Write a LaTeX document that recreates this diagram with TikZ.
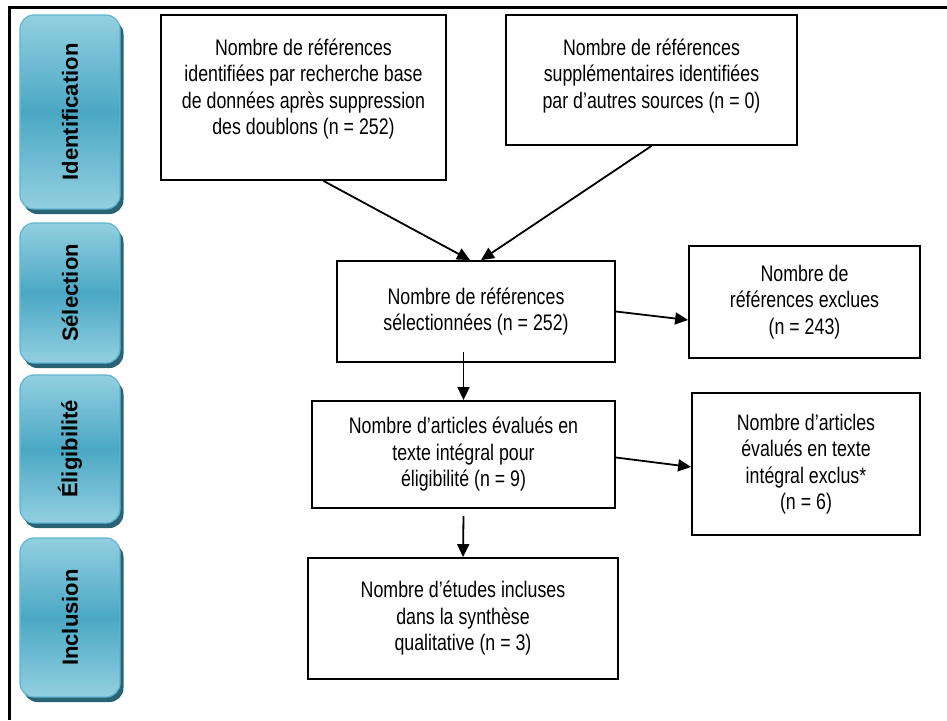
\documentclass[tikz,border=0pt]{standalone}
\usepackage{graphicx}
\usepackage{fontspec}
\setmainfont{Liberation Sans}[FakeStretch=0.79]
\newfontfamily\phasefont{Liberation Sans}
\usetikzlibrary{arrows.meta,shadows,calc}

\definecolor{phaselight}{HTML}{93CFE0}
\definecolor{phasemid}{HTML}{4AA8C4}
\definecolor{phaseedge}{HTML}{5DB6CE}
\definecolor{phaseshadow}{HTML}{2A6376}

\begin{document}
\begin{tikzpicture}[x=1pt,y=-1pt,
  phase/.style={rounded corners=14pt, draw=phaseedge, line width=1.2pt,
    top color=phaselight, bottom color=phaselight, middle color=phasemid,
    drop shadow={shadow xshift=3.5pt,shadow yshift=-5pt,fill=phaseshadow,opacity=1},
    minimum width=100pt, inner sep=0pt,
    font=\phasefont\bfseries\fontsize{22}{26}\selectfont},
  box/.style={draw, line width=1.8pt, align=center, inner sep=0pt,
    font=\fontsize{22.5}{26.5}\selectfont},
  flow/.style={line width=1.8pt, -{Triangle[length=13pt,width=12pt]}}
]
\useasboundingbox (0,0) rectangle (947,720);

% outer frame (open to the right and bottom)
\draw[line width=2.2pt] (9.5,720) -- (9.5,7.5) -- (947,7.5);

% phase tabs on the left
\node[phase, minimum height=194pt] (pid)  at (70,112)   {\rotatebox{90}{Identification}};
\node[phase, minimum height=140pt] (psel) at (70,293)   {\rotatebox{90}{Sélection}};
\node[phase, minimum height=148pt] (pel)  at (70,449)   {\rotatebox{90}{Éligibilité}};
\node[phase, minimum height=159pt] (pinc) at (70,617.5) {\rotatebox{90}{Inclusion}};

% flow boxes
\node[box, minimum width=285pt, minimum height=165pt] (b1) at (303.5,97.5) {};
\node[align=center, font=\fontsize{22.5}{26.5}\selectfont] (t1) at (303.5,89)
  {Nombre de références\\identifiées par recherche base\\de données après suppression\\des doublons (n = 252)};
\node[box, minimum width=291pt, minimum height=130pt] (b2) at (651.5,80) {};
\node[align=center, font=\fontsize{22.5}{26.5}\selectfont] (t2) at (651.5,76)
  {Nombre de références\\supplémentaires identifiées\\par d’autres sources (n = 0)};
\node[box, minimum width=278pt, minimum height=101pt] (b3) at (476,311.5)
  {Nombre de références\\sélectionnées (n = 252)};
\node[box, minimum width=231pt, minimum height=112pt] (b4) at (804.5,302)
  {Nombre de\\références exclues\\(n = 243)};
\node[box, minimum width=303pt, minimum height=107pt] (b5) at (463.5,454.5)
  {Nombre d’articles évalués en\\texte intégral pour\\éligibilité (n = 9)};
\node[box, minimum width=228pt, minimum height=142pt] (b6) at (806,464)
  {Nombre d’articles\\évalués en texte\\intégral exclus*\\(n = 6)};
\node[box, minimum width=310pt, minimum height=121pt] (b7) at (463,618.5)
  {Nombre d’études incluses\\dans la synthèse\\qualitative (n = 3)};

% connectors
\draw[flow] ($(b1.south)+(20,0)$) -- ($(b3.north)+(-6,0)$);
\draw[flow] (b2.south) -- ($(b3.north)+(5,0)$);
\draw[flow] (b3.east) -- ($(b4.west)+(0,18)$);
\draw[flow] ($(b5.north |- b3.south)+(0,-11)$) -- (b5.north);
\draw[flow] ($(b5.east)+(0,3)$) -- ($(b6.west)+(0,3)$);
\draw[flow] ($(b5.south)+(0,7)$) -- (b7.north);
\end{tikzpicture}
\end{document}
